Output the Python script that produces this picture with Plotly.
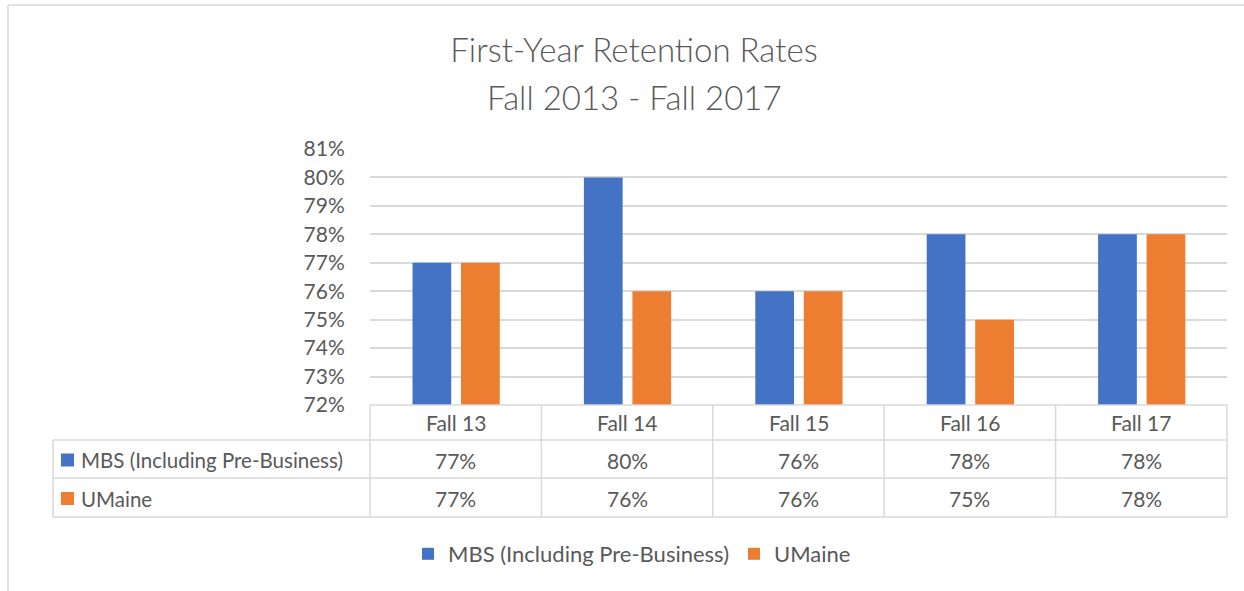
import plotly.graph_objects as go

# ---- data ----
categories = ["Fall 13", "Fall 14", "Fall 15", "Fall 16", "Fall 17"]
series_names = ["MBS (Including Pre-Business)", "UMaine"]
mbs_values = [77, 80, 76, 78, 78]
umaine_values = [77, 76, 76, 75, 78]
y_ticks = [72, 73, 74, 75, 76, 77, 78, 79, 80, 81]
title_line1 = "First-Year Retention Rates"
title_line2 = "Fall 2013 - Fall 2017"

colors = ["#4472C4", "#ED7D31"]
series_values = [mbs_values, umaine_values]

# ---- layout geometry (pixels) ----
W_FIG, H_FIG = 1244, 591
L, R, T, B = 370, 1227, 149, 405
PW, PH = R - L, B - T
FONT = "Lato"
TITLE_FONT = "Lato Light, Lato"
TXT = "#595959"
GRID = "#d9d9d9"


def px(x):
    return (x - L) / PW


def py(y):
    return (B - y) / PH


fig = go.Figure()
offsets = [-0.252, 0.031]
for name, vals, col, off in zip(series_names, series_values, colors, offsets):
    fig.add_trace(go.Bar(
        x=categories, y=vals, name=name,
        marker=dict(color=col, line=dict(width=0)),
        width=0.226, offset=off,
        hovertemplate="%{x}: %{y}%<extra>" + name + "</extra>",
    ))

shapes = []
line = dict(color=GRID, width=1.5)
# outer chart border (left and top)
shapes.append(dict(type="line", xref="paper", yref="paper",
                   x0=px(8), x1=px(8), y0=py(5), y1=py(600), line=line))
shapes.append(dict(type="line", xref="paper", yref="paper",
                   x0=px(8), x1=px(1250), y0=py(5), y1=py(5), line=line))

# data table
row_y = [405, 440, 478, 517]
n = len(categories)
shapes.append(dict(type="line", xref="paper", yref="paper",
                   x0=0, x1=1, y0=py(row_y[0]), y1=py(row_y[0]), line=line))
for yy in row_y[1:]:
    shapes.append(dict(type="line", xref="paper", yref="paper",
                       x0=px(53), x1=1, y0=py(yy), y1=py(yy), line=line))
for i in range(n + 1):
    shapes.append(dict(type="line", xref="paper", yref="paper",
                       x0=i / n, x1=i / n, y0=py(row_y[0]), y1=py(row_y[-1]), line=line))
shapes.append(dict(type="line", xref="paper", yref="paper",
                   x0=px(53), x1=px(53), y0=py(row_y[1]), y1=py(row_y[-1]), line=line))

annotations = []
# header row
for c in categories:
    annotations.append(dict(x=c, xref="x", y=py((row_y[0] + row_y[1]) / 2), yref="paper",
                            text=c, showarrow=False, font=dict(family=FONT, size=21, color=TXT),
                            xanchor="center", yanchor="middle"))
# value rows
for r, (name, vals, col) in enumerate(zip(series_names, series_values, colors)):
    yc = (row_y[r + 1] + row_y[r + 2]) / 2 + 1
    shapes.append(dict(type="rect", xref="paper", yref="paper",
                       x0=px(61), x1=px(74), y0=py(yc - 6.5), y1=py(yc + 6.5),
                       fillcolor=col, line=dict(width=0)))
    annotations.append(dict(x=px(79), xref="paper", y=py(yc), yref="paper",
                            text=name, showarrow=False, font=dict(family=FONT, size=20.5, color=TXT),
                            xanchor="left", yanchor="middle"))
    for c, v in zip(categories, vals):
        annotations.append(dict(x=c, xref="x", y=py(yc), yref="paper",
                                text=f"{v}%", showarrow=False,
                                font=dict(family=FONT, size=21, color=TXT),
                                xanchor="center", yanchor="middle"))

# title second line
annotations.append(dict(x=px(634), xref="paper", y=py(97), yref="paper",
                        text=title_line2, showarrow=False,
                        font=dict(family=TITLE_FONT, size=33, color=TXT),
                        xanchor="center", yanchor="middle"))

fig.update_layout(
    width=W_FIG, height=H_FIG,
    margin=dict(l=L, r=W_FIG - R, t=T, b=H_FIG - B, autoexpand=False),
    paper_bgcolor="white", plot_bgcolor="white",
    font=dict(family=FONT, color=TXT),
    title=dict(text=title_line1, x=634 / W_FIG, xanchor="center",
               y=1 - 50 / H_FIG, yanchor="middle", yref="container",
               font=dict(family=TITLE_FONT, size=33, color=TXT)),
    barmode="group",
    xaxis=dict(showticklabels=False, showgrid=False, zeroline=False, showline=False,
               ticks="", range=[-0.5, n - 0.5]),
    yaxis=dict(range=[y_ticks[0], y_ticks[-1]], tickvals=y_ticks,
               ticktext=[f"{t}%" for t in y_ticks],
               showgrid=True, gridcolor=GRID, gridwidth=1.5, zeroline=False,
               showline=False, ticks="outside", ticklen=20, tickcolor="rgba(0,0,0,0)",
               tickfont=dict(family=FONT, size=21, color=TXT)),
    legend=dict(orientation="h", xref="container", yref="container",
                x=632 / W_FIG, xanchor="center", y=1 - 554 / H_FIG, yanchor="middle",
                font=dict(family=FONT, size=22, color=TXT), itemwidth=30,
                traceorder="normal"),
    shapes=shapes, annotations=annotations,
)

fig.write_html("out.html", config={"displayModeBar": False},
               post_script="document.body.style.margin='0';document.body.style.overflow='hidden';")
